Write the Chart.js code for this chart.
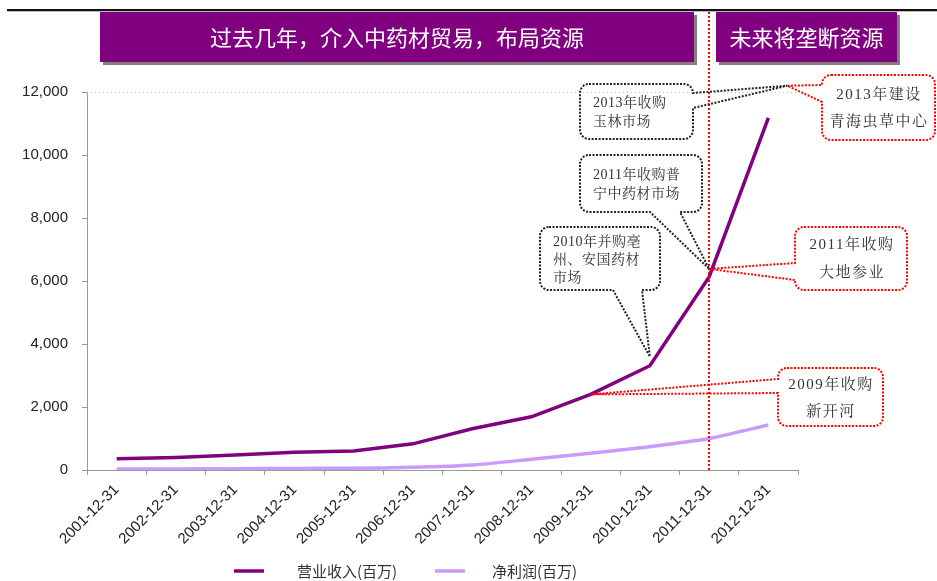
<!DOCTYPE html>
<html>
<head>
<meta charset="utf-8">
<script src="https://cdn.jsdelivr.net/npm/chart.js@4.4.0/dist/chart.umd.min.js"></script>
<style>
html, body { margin: 0; padding: 0; background: #fff; }
#wrap { width: 937px; height: 581px; }
</style>
</head>
<body>
<div id="wrap"><canvas id="chart" width="937" height="581"></canvas></div>
<script>
// yearly figures, millions
const periods = ['2001-12-31', '2002-12-31', '2003-12-31', '2004-12-31', '2005-12-31', '2006-12-31',
    '2007-12-31', '2008-12-31', '2009-12-31', '2010-12-31', '2011-12-31', '2012-12-31'];
const revenue = [360, 400, 475, 560, 600, 830, 1310, 1690, 2400, 3310, 6130, 11180];
const netProfit = [30, 35, 40, 50, 55, 85, 160, 340, 530, 740, 1000, 1430];
const revenueLabel = '营业收入(百万)';
const profitLabel = '净利润(百万)';
const yMax = 12000;
const yStep = 2000;

const bannerPast = '过去几年，介入中药材贸易，布局资源';
const bannerFuture = '未来将垄断资源';
const splitIndex = 10; // 2011-12-31

// callouts: box is x, y, w, h; base is where the pointer leaves the box
const notes = [
    { lines: ['2013年收购', '玉林市场'], color: '#222', box: [580, 84, 113, 55], side: 'right', base: [93, 108],
      tip: { i: 11.32, v: 12200 }, align: 'left', tx: 593, ty: 103, gap: 19, size: 14 },
    { lines: ['2013年建设', '青海虫草中心'], color: '#ff0000', box: [822, 75, 113, 65], side: 'left', base: [85, 102],
      tip: { i: 11.32, v: 12200 }, align: 'center', tx: 879, ty: 95, gap: 27, size: 15 },
    { lines: ['2011年收购普', '宁中药材市场'], color: '#222', box: [580, 155, 122, 57], side: 'bottom', base: [650, 680],
      tip: { i: 10, dy: -8 }, align: 'left', tx: 593, ty: 175, gap: 19, size: 14 },
    { lines: ['2010年并购亳', '州、安国药材', '市场'], color: '#222', box: [540, 227, 120, 63], side: 'bottom', base: [613, 642],
      tip: { i: 9, dy: -9 }, align: 'left', tx: 553, ty: 242, gap: 18, size: 14 },
    { lines: ['2011年收购', '大地参业'], color: '#ff0000', box: [795, 227, 112, 63], side: 'left', base: [263, 280],
      tip: { i: 10, dy: -8 }, align: 'center', tx: 852, ty: 245, gap: 28, size: 15 },
    { lines: ['2009年收购', '新开河'], color: '#ff0000', box: [778, 368, 105, 58], side: 'left', base: [379, 393],
      tip: { i: 8, dy: 0 }, align: 'center', tx: 831, ty: 385, gap: 27, size: 15 }
];

function calloutPath(ctx, n, tip) {
    const [x, y, w, h] = n.box;
    const r = 9;
    const [a, b] = n.base;
    ctx.beginPath();
    ctx.moveTo(x + r, y);
    if (n.side === 'top') { ctx.lineTo(a, y); ctx.lineTo(tip.x, tip.y); ctx.lineTo(b, y); }
    ctx.lineTo(x + w - r, y);
    ctx.arcTo(x + w, y, x + w, y + r, r);
    if (n.side === 'right') { ctx.lineTo(x + w, a); ctx.lineTo(tip.x, tip.y); ctx.lineTo(x + w, b); }
    ctx.lineTo(x + w, y + h - r);
    ctx.arcTo(x + w, y + h, x + w - r, y + h, r);
    if (n.side === 'bottom') { ctx.lineTo(b, y + h); ctx.lineTo(tip.x, tip.y); ctx.lineTo(a, y + h); }
    ctx.lineTo(x + r, y + h);
    ctx.arcTo(x, y + h, x, y + h - r, r);
    if (n.side === 'left') { ctx.lineTo(x, b); ctx.lineTo(tip.x, tip.y); ctx.lineTo(x, a); }
    ctx.lineTo(x, y + r);
    ctx.arcTo(x, y, x + r, y, r);
    ctx.closePath();
}

function banner(ctx, x, y, w, h, text) {
    ctx.fillStyle = '#808080';
    ctx.fillRect(x + 3, y + 3, w, h);
    ctx.fillStyle = '#800080';
    ctx.fillRect(x, y, w, h);
    ctx.fillStyle = '#fff';
    ctx.font = '22px "Noto Sans CJK SC"';
    ctx.textAlign = 'center';
    ctx.textBaseline = 'middle';
    ctx.fillText(text, x + w / 2, y + h / 2 + 1);
}

const decorations = {
    id: 'decorations',
    afterDatasetsDraw(chart) {
        const ctx = chart.ctx;
        const xs = chart.scales.x, ys = chart.scales.y;
        ctx.save();

        // dotted top gridline
        ctx.strokeStyle = '#bbb';
        ctx.lineWidth = 1;
        ctx.setLineDash([1, 3]);
        ctx.beginPath();
        ctx.moveTo(xs.left, ys.getPixelForValue(yMax) + 0.5);
        ctx.lineTo(xs.right, ys.getPixelForValue(yMax) + 0.5);
        ctx.stroke();

        // past / future divider
        const sx = Math.round(xs.getPixelForValue(splitIndex));
        ctx.strokeStyle = '#ff0000';
        ctx.lineWidth = 2;
        ctx.setLineDash([2, 2]);
        ctx.beginPath();
        ctx.moveTo(sx, 12);
        ctx.lineTo(sx, ys.bottom + 2);
        ctx.stroke();

        // callouts
        notes.forEach(n => {
            const v = n.tip.v !== undefined ? n.tip.v : revenue[n.tip.i];
            const tip = { x: xs.getPixelForValue(n.tip.i), y: ys.getPixelForValue(v) + (n.tip.dy || 0) };
            ctx.strokeStyle = n.color;
            ctx.lineWidth = 2;
            ctx.setLineDash([2, 1.5]);
            calloutPath(ctx, n, tip);
            ctx.stroke();
            ctx.setLineDash([]);
            ctx.fillStyle = '#333';
            ctx.font = n.size + 'px "Liberation Serif", "Noto Serif CJK SC", "Noto Sans CJK SC"';
            ctx.letterSpacing = n.size > 14 ? '1.5px' : '0.5px';
            ctx.textAlign = n.align;
            ctx.textBaseline = 'middle';
            n.lines.forEach((t, k) => ctx.fillText(t, n.tx, n.ty + k * n.gap));
            ctx.letterSpacing = '0px';
        });
        ctx.restore();
    },
    afterDraw(chart) {
        const ctx = chart.ctx;
        ctx.save();
        // header rule
        ctx.fillStyle = '#111';
        ctx.fillRect(7, 9, 930, 2);
        ctx.fillStyle = '#bbb';
        ctx.fillRect(7, 11, 930, 1);

        banner(ctx, 100, 12, 594, 50, bannerPast);
        banner(ctx, 716, 12, 181, 50, bannerFuture);

        // legend
        const items = [[234, 297], [435, 492]];
        chart.data.datasets.forEach((ds, k) => {
            const [lx, tx] = items[k];
            ctx.strokeStyle = ds.borderColor;
            ctx.lineWidth = 3.5;
            ctx.beginPath();
            ctx.moveTo(lx, 571);
            ctx.lineTo(lx + 30, 571);
            ctx.stroke();
            ctx.fillStyle = '#333';
            ctx.font = '15px "Noto Sans CJK SC"';
            ctx.textAlign = 'left';
            ctx.textBaseline = 'middle';
            ctx.fillText(ds.label, tx, 571);
        });
        ctx.restore();
    }
};

new Chart(document.getElementById('chart'), {
    type: 'line',
    data: {
        labels: periods,
        datasets: [{
            label: revenueLabel,
            data: revenue,
            borderColor: '#800080',
            borderWidth: 3.5,
            pointRadius: 0,
            tension: 0
        }, {
            label: profitLabel,
            data: netProfit,
            borderColor: '#cc99ff',
            borderWidth: 3.5,
            pointRadius: 0,
            tension: 0.2
        }]
    },
    options: {
        responsive: false,
        animation: false,
        layout: { padding: { left: 0, top: 92, right: 139, bottom: 0 } },
        plugins: {
            legend: { display: false },
            tooltip: { enabled: false }
        },
        scales: {
            x: {
                offset: true,
                grid: { offset: true, drawOnChartArea: false, tickLength: 5, color: '#999' },
                border: { color: '#999' },
                ticks: {
                    minRotation: 45, maxRotation: 45, padding: 6,
                    color: '#222',
                    font: { family: '"Liberation Sans", Arial', size: 15 }
                },
                afterFit: s => { s.height = 111; }
            },
            y: {
                min: 0,
                max: yMax,
                grid: { drawOnChartArea: false, tickLength: 5, color: '#999' },
                border: { color: '#999' },
                ticks: {
                    stepSize: yStep,
                    padding: 14,
                    color: '#222',
                    font: { family: '"Liberation Sans", Arial', size: 15 }
                },
                afterFit: s => { s.width = 87; }
            }
        }
    },
    plugins: [decorations]
});
</script>
</body>
</html>
